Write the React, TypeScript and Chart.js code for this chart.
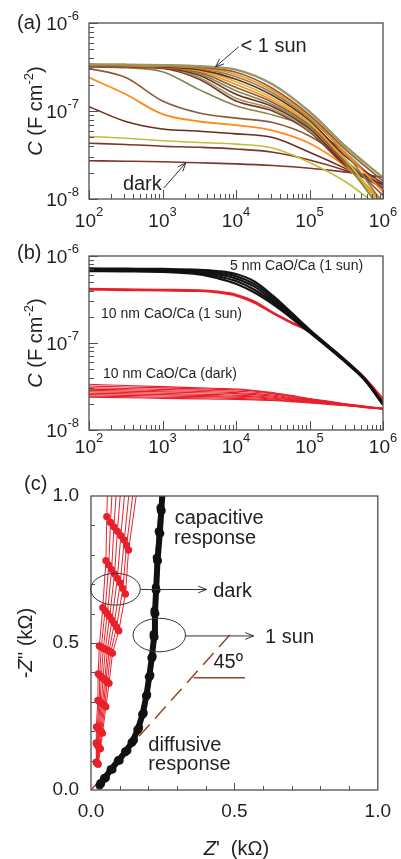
import React, { useEffect, useRef } from 'react';
import { Chart, registerables } from 'chart.js';

Chart.register(...registerables);

const FONT = '"Liberation Sans", Arial, Helvetica, sans-serif';
const INK = '#231f20';
const FRAME = '#505050';

// ---------------- (a) capacitance vs frequency, light-intensity series ----------------
const FREQ_A = [1e2, 3.16e2, 1e3, 3.16e3, 1e4, 3.16e4, 1e5, 3.16e5, 1e6];
// capacitance values in units of 1e-8 F cm^-2
const A_B1 = [34.0, 33.7, 33.2, 32.3, 29.5, 20.0, 9.8, 3.9, 1.75];
const A_B2 = [33.5, 33.2, 32.7, 31.5, 27.5, 18.0, 9.0, 3.6, 1.6];
const A_B3 = [33.0, 32.8, 32.2, 31.0, 26.0, 17.0, 8.6, 3.3, 1.2];
const A_B4 = [33.5, 33.0, 32.5, 30.5, 24.5, 16.0, 8.2, 3.2, 0.9];
const A_B5 = [32.5, 32.2, 31.6, 29.5, 23.0, 15.0, 7.8, 3.0, 1.5];
const A_B6 = [33.0, 32.5, 31.8, 29.0, 21.5, 14.0, 7.4, 2.8, 0.75];
const A_B7 = [32.8, 32.4, 31.5, 28.5, 20.0, 13.2, 7.2, 2.7, 0.85];
const A_B8 = [32.0, 31.7, 31.0, 27.5, 18.5, 12.5, 6.9, 2.6, 1.3];
const A_B9 = [33.2, 32.8, 31.8, 26.5, 17.0, 11.8, 6.6, 2.5, 0.7];
const A_B10 = [32.5, 32.0, 31.0, 25.5, 15.5, 11.2, 6.3, 2.45, 1.45];
const A_B11 = [33.0, 32.5, 31.5, 24.0, 14.0, 10.5, 6.0, 2.4, 0.8];
const A_B12 = [32.0, 31.5, 30.5, 23.0, 13.0, 10.0, 5.8, 2.35, 1.35];
const A_C7 = [31.6, 31.0, 28.0, 17.5, 11.5, 9.0, 6.5, 3.3, 1.3];
const A_C6 = [30.5, 24.0, 13.0, 9.5, 8.3, 7.4, 5.2, 2.7, 1.1];
const A_C5 = [24.0, 15.5, 9.2, 7.6, 6.9, 6.0, 4.3, 2.3, 0.95];
const A_C4 = [11.2, 7.6, 6.25, 5.9, 5.5, 5.0, 3.4, 2.2, 1.35];
const A_C3 = [5.13, 4.9, 4.6, 4.38, 4.2, 3.8, 2.6, 1.55, 0.75];
const A_C2 = [4.3, 4.17, 3.98, 3.87, 3.7, 3.4, 2.78, 2.1, 1.45];
const A_DARK = [2.72, 2.69, 2.65, 2.58, 2.51, 2.4, 2.24, 2.02, 1.76];

const KHAKI = '#9b9560';
const OLIVE = '#86844a';
const BROWN = '#8a5a3a';
const DBROWN = '#6a2c1e';
const RBROWN = '#7e3626';
const ORANGE = '#ff8a1a';
const YGREEN = '#c2bd3c';

const A_SERIES = [
  { v: A_B1, c: KHAKI, w: 2.4 },
  { v: A_B2, c: BROWN, w: 1.6 },
  { v: A_B3, c: ORANGE, w: 1.6 },
  { v: A_B4, c: OLIVE, w: 1.6 },
  { v: A_B5, c: DBROWN, w: 1.6 },
  { v: A_B6, c: YGREEN, w: 1.6 },
  { v: A_B7, c: ORANGE, w: 1.6 },
  { v: A_B8, c: BROWN, w: 1.6 },
  { v: A_B9, c: OLIVE, w: 1.6 },
  { v: A_B10, c: DBROWN, w: 1.6 },
  { v: A_B11, c: KHAKI, w: 1.6 },
  { v: A_B12, c: RBROWN, w: 1.6 },
  { v: A_C7, c: OLIVE, w: 1.6 },
  { v: A_C6, c: BROWN, w: 1.6 },
  { v: A_C5, c: ORANGE, w: 1.8 },
  { v: A_C4, c: DBROWN, w: 1.6 },
  { v: A_C3, c: YGREEN, w: 1.6 },
  { v: A_C2, c: RBROWN, w: 1.6 },
  { v: A_DARK, c: RBROWN, w: 1.6 },
];

const X_EXP = [2, 3, 4, 5, 6];
const Y_EXP = [-8, -7, -6];

// ---------------- (b) thickness comparison ----------------
const FREQ_B = [1e2, 3.16e2, 1e3, 3.16e3, 5.62e3, 1e4, 1.78e4, 3.16e4, 5.62e4, 1e5, 1.78e5, 3.16e5, 5.62e5, 1e6];
// units of 1e-8 F cm^-2
const B_5NM_SUN = [
  [72, 71.5, 71, 69.5, 67, 62, 51, 35, 22.5, 14.3, 9.4, 6.2, 3.9, 2.05],
  [70.5, 70, 69.5, 67.5, 64.5, 58.5, 47.5, 33, 21.5, 14.0, 9.2, 6.1, 3.85, 2.02],
  [69, 68.5, 68, 65.5, 61.5, 55, 44.5, 31, 21, 13.7, 9.1, 6.05, 3.8, 2.0],
  [68, 67.5, 66.5, 63.5, 58.5, 51.5, 41, 29.5, 20.2, 13.4, 9.0, 6.0, 3.78, 1.98],
  [67, 66.5, 65.5, 61.5, 55.5, 48, 38, 28, 19.5, 13.2, 8.9, 5.9, 3.75, 1.95],
];
const B_10NM_SUN = [
  [42, 41.5, 41, 40.5, 39, 36, 30, 22.5, 17.4, 13.7, 9.4, 6.2, 3.95, 2.2],
  [41, 40.5, 40, 39.5, 38, 35, 29, 22, 17.0, 13.5, 9.3, 6.2, 4.0, 2.28],
];
const B_10NM_DARK = [
  [3.35, 3.25, 3.15, 3.05, 3.0, 2.95, 2.85, 2.7, 2.5, 2.3, 2.15, 2.0, 1.88, 1.78],
  [3.2, 3.12, 3.05, 2.97, 2.93, 2.9, 2.8, 2.65, 2.45, 2.27, 2.12, 1.98, 1.87, 1.77],
  [3.05, 3.0, 2.93, 2.87, 2.83, 2.8, 2.72, 2.6, 2.4, 2.25, 2.1, 1.97, 1.86, 1.77],
  [2.95, 2.9, 2.83, 2.77, 2.73, 2.7, 2.62, 2.52, 2.35, 2.22, 2.08, 1.96, 1.85, 1.76],
  [2.85, 2.8, 2.74, 2.68, 2.65, 2.62, 2.55, 2.45, 2.3, 2.2, 2.07, 1.95, 1.85, 1.76],
  [2.75, 2.7, 2.64, 2.58, 2.55, 2.52, 2.46, 2.38, 2.26, 2.17, 2.05, 1.94, 1.84, 1.75],
  [2.65, 2.6, 2.55, 2.5, 2.47, 2.45, 2.4, 2.32, 2.22, 2.14, 2.03, 1.93, 1.84, 1.75],
  [2.55, 2.5, 2.46, 2.42, 2.4, 2.38, 2.33, 2.27, 2.19, 2.11, 2.01, 1.92, 1.83, 1.74],
  [2.45, 2.42, 2.38, 2.35, 2.33, 2.31, 2.27, 2.22, 2.15, 2.08, 1.99, 1.91, 1.82, 1.74],
  [2.38, 2.35, 2.31, 2.28, 2.26, 2.25, 2.22, 2.18, 2.12, 2.05, 1.97, 1.9, 1.81, 1.73],
];

// ---------------- (c) Nyquist plot, kΩ ----------------
const DARK_RE = [
  [0.018, 0.018, 0.019, 0.024, 0.025, 0.029, 0.041, 0.052, 0.055, 0.060],
  [0.019, 0.020, 0.022, 0.028, 0.030, 0.036, 0.049, 0.062, 0.068, 0.078],
  [0.020, 0.022, 0.025, 0.032, 0.036, 0.043, 0.057, 0.072, 0.080, 0.094],
  [0.021, 0.024, 0.028, 0.036, 0.042, 0.050, 0.065, 0.082, 0.092, 0.110],
  [0.022, 0.026, 0.031, 0.040, 0.048, 0.057, 0.073, 0.092, 0.104, 0.126],
  [0.023, 0.028, 0.034, 0.044, 0.052, 0.063, 0.081, 0.102, 0.116, 0.142],
  [0.024, 0.030, 0.037, 0.048, 0.057, 0.069, 0.089, 0.111, 0.124, 0.158],
  [0.025, 0.033, 0.040, 0.052, 0.063, 0.075, 0.097, 0.120, 0.131, 0.172],
];
const DARK_IM = [
  [0.095, 0.160, 0.215, 0.305, 0.395, 0.490, 0.620, 0.780, 0.930, 1.10],
  [0.094, 0.157, 0.212, 0.302, 0.390, 0.486, 0.610, 0.765, 0.910, 1.10],
  [0.093, 0.154, 0.209, 0.299, 0.385, 0.482, 0.600, 0.750, 0.895, 1.10],
  [0.092, 0.151, 0.206, 0.296, 0.380, 0.479, 0.590, 0.735, 0.880, 1.10],
  [0.091, 0.148, 0.203, 0.293, 0.376, 0.476, 0.578, 0.720, 0.865, 1.10],
  [0.090, 0.145, 0.200, 0.290, 0.372, 0.472, 0.566, 0.705, 0.850, 1.10],
  [0.089, 0.142, 0.197, 0.287, 0.368, 0.469, 0.554, 0.685, 0.832, 1.10],
  [0.088, 0.140, 0.193, 0.283, 0.363, 0.465, 0.542, 0.667, 0.816, 1.10],
];
const SUN_RE = [0.034, 0.047, 0.07, 0.095, 0.12, 0.143, 0.163, 0.18, 0.193, 0.203, 0.212, 0.22, 0.223, 0.227, 0.232, 0.24, 0.245, 0.25];
const SUN_IM = [0.022, 0.04, 0.07, 0.1, 0.13, 0.162, 0.205, 0.258, 0.32, 0.385, 0.45, 0.521, 0.6, 0.68, 0.78, 0.873, 0.95, 1.02];
const SUN2_RE = [0.030, 0.052, 0.075, 0.1, 0.127, 0.15, 0.168, 0.184, 0.196, 0.207, 0.215, 0.218, 0.221, 0.226, 0.229, 0.236, 0.242, 0.247];
const SUN2_IM = [0.015, 0.042, 0.07, 0.1, 0.134, 0.17, 0.212, 0.262, 0.325, 0.39, 0.455, 0.53, 0.61, 0.69, 0.79, 0.88, 0.96, 1.03];
const SLOPE_RE = [0, 0.5];
const SLOPE_IM = [0, 0.545];
const ANGLE_RE = [0.358, 0.537];
const ANGLE_IM = [0.382, 0.382];
const C_TICKS = [0, 0.5, 1.0];

const RED = '#e8202a';
const LINE_BROWN = '#8e4a2c';

// ---------------- drawing helpers ----------------
const fnt = (size: number, style = '') => `${style} ${size}px ${FONT}`.trim();

type Run = { t: string; font: string; dy?: number };

function drawRuns(ctx: CanvasRenderingContext2D, runs: Run[], x: number, y: number, align: 'left' | 'center' | 'right') {
  let total = 0;
  const widths = runs.map((r) => {
    ctx.font = r.font;
    const w = ctx.measureText(r.t).width;
    total += w;
    return w;
  });
  let cx = align === 'center' ? x - total / 2 : align === 'right' ? x - total : x;
  ctx.textAlign = 'left';
  ctx.textBaseline = 'alphabetic';
  runs.forEach((r, i) => {
    ctx.font = r.font;
    ctx.fillText(r.t, cx, y + (r.dy || 0));
    cx += widths[i];
  });
}

function drawArrow(ctx: CanvasRenderingContext2D, x1: number, y1: number, x2: number, y2: number) {
  const ang = Math.atan2(y2 - y1, x2 - x1);
  const h = 9;
  const spread = 0.38;
  ctx.beginPath();
  ctx.moveTo(x1, y1);
  ctx.lineTo(x2, y2);
  ctx.moveTo(x2 - h * Math.cos(ang - spread), y2 - h * Math.sin(ang - spread));
  ctx.lineTo(x2, y2);
  ctx.lineTo(x2 - h * Math.cos(ang + spread), y2 - h * Math.sin(ang + spread));
  ctx.stroke();
}

type Note =
  | { kind: 'text'; x: number; y: number; text: string; size: number }
  | { kind: 'arrow'; x1: number; y1: number; x2: number; y2: number };

function logPanelPlugin(cfg: { label: string; labelY: number; xBase: number; notes: Note[] }) {
  return {
    id: 'logPanel' + cfg.label.replace(/[()]/g, ''),
    afterDatasetsDraw(chart: any) {
      const { ctx, chartArea: a } = chart;
      const xs = chart.scales.x;
      const ys = chart.scales.y;
      ctx.save();
      ctx.strokeStyle = FRAME;
      ctx.lineWidth = 1.3;
      ctx.strokeRect(a.left, a.top, a.right - a.left, a.bottom - a.top);
      ctx.lineWidth = 1;
      ctx.beginPath();
      const ex0 = Math.round(Math.log10(xs.min));
      const ex1 = Math.round(Math.log10(xs.max));
      for (let e = ex0; e <= ex1; e++) {
        for (let k = 1; k <= 9; k++) {
          const v = k * Math.pow(10, e);
          if (v > xs.max * 1.0001) break;
          const px = Math.round(xs.getPixelForValue(v)) + 0.5;
          const len = k === 1 ? 9 : 5;
          ctx.moveTo(px, a.bottom);
          ctx.lineTo(px, a.bottom - len);
        }
      }
      const ey0 = Math.round(Math.log10(ys.min));
      const ey1 = Math.round(Math.log10(ys.max));
      for (let e = ey0; e <= ey1; e++) {
        for (let k = 1; k <= 9; k++) {
          const v = k * Math.pow(10, e);
          if (v > ys.max * 1.0001) break;
          const py = Math.round(ys.getPixelForValue(v)) + 0.5;
          const len = k === 1 ? 9 : 5;
          ctx.moveTo(a.left, py);
          ctx.lineTo(a.left + len, py);
        }
      }
      ctx.stroke();

      ctx.fillStyle = INK;
      X_EXP.forEach((e) => {
        const px = xs.getPixelForValue(Math.pow(10, e));
        drawRuns(ctx, [{ t: '10', font: fnt(19) }, { t: String(e), font: fnt(13), dy: -11 }], px, a.bottom + cfg.xBase, 'center');
      });
      Y_EXP.forEach((e) => {
        const py = ys.getPixelForValue(Math.pow(10, e));
        drawRuns(ctx, [{ t: '10', font: fnt(19) }, { t: String(e), font: fnt(13), dy: -10 }], a.left - 10, py + 7, 'right');
      });

      // y-axis title
      ctx.save();
      ctx.translate(42, (a.top + a.bottom) / 2);
      ctx.rotate(-Math.PI / 2);
      drawRuns(
        ctx,
        [
          { t: 'C', font: fnt(20, 'italic') },
          { t: ' (F cm', font: fnt(20) },
          { t: '-2', font: fnt(13), dy: -9 },
          { t: ')', font: fnt(20) },
        ],
        0,
        0,
        'center'
      );
      ctx.restore();

      // panel label
      ctx.font = fnt(20);
      ctx.textAlign = 'left';
      ctx.textBaseline = 'alphabetic';
      ctx.fillText(cfg.label, 17, cfg.labelY);

      // annotations
      ctx.strokeStyle = '#333';
      ctx.lineWidth = 1;
      cfg.notes.forEach((n) => {
        if (n.kind === 'text') {
          ctx.font = fnt(n.size);
          ctx.textAlign = 'left';
          ctx.textBaseline = 'alphabetic';
          ctx.fillText(n.text, xs.getPixelForValue(n.x), ys.getPixelForValue(n.y));
        } else {
          drawArrow(ctx, xs.getPixelForValue(n.x1), ys.getPixelForValue(n.y1), xs.getPixelForValue(n.x2), ys.getPixelForValue(n.y2));
        }
      });
      ctx.restore();
    },
  };
}

const NOTES_A: Note[] = [
  { kind: 'text', x: 1.15e4, y: 4.68e-7, text: '< 1 sun', size: 20 },
  { kind: 'arrow', x1: 1.09e4, y1: 5.38e-7, x2: 5.27e3, y2: 3.18e-7 },
  { kind: 'text', x: 289, y: 1.265e-8, text: 'dark', size: 20 },
  { kind: 'arrow', x1: 1.04e3, y1: 1.33e-8, x2: 2.07e3, y2: 2.57e-8 },
];
const NOTES_B: Note[] = [
  { kind: 'text', x: 8.3e3, y: 6.85e-7, text: '5 nm CaO/Ca (1 sun)', size: 14 },
  { kind: 'text', x: 146, y: 1.94e-7, text: '10 nm CaO/Ca (1 sun)', size: 14 },
  { kind: 'text', x: 155, y: 3.96e-8, text: '10 nm CaO/Ca (dark)', size: 14 },
];

const C_TOP = 460; // page offset of the (c) canvas

const nyquistPlugin = {
  id: 'nyquist',
  afterDatasetsDraw(chart: any) {
    const { ctx, chartArea: a } = chart;
    const xs = chart.scales.x;
    const ys = chart.scales.y;
    const X = (v: number) => xs.getPixelForValue(v);
    const Y = (v: number) => ys.getPixelForValue(v);
    ctx.save();
    ctx.strokeStyle = FRAME;
    ctx.lineWidth = 1.3;
    ctx.strokeRect(a.left, a.top, a.right - a.left, a.bottom - a.top);
    ctx.lineWidth = 1;
    ctx.beginPath();
    for (let i = 1; i < 10; i++) {
      const v = i / 10;
      const len = i === 5 ? 7 : 4;
      const px = Math.round(X(v)) + 0.5;
      ctx.moveTo(px, a.bottom);
      ctx.lineTo(px, a.bottom - len);
      const py = Math.round(Y(v)) + 0.5;
      ctx.moveTo(a.left, py);
      ctx.lineTo(a.left + len, py);
    }
    ctx.stroke();

    ctx.fillStyle = INK;
    // axis titles
    drawRuns(
      ctx,
      [
        { t: 'Z', font: fnt(20, 'italic') },
        { t: "'", font: fnt(20) },
        { t: '  (kΩ)', font: fnt(20) },
      ],
      (a.left + a.right) / 2 + 2,
      855 - C_TOP,
      'center'
    );
    ctx.save();
    ctx.translate(32, (a.top + a.bottom) / 2);
    ctx.rotate(-Math.PI / 2);
    drawRuns(
      ctx,
      [
        { t: '-', font: fnt(20) },
        { t: 'Z', font: fnt(20, 'italic') },
        { t: "'' (kΩ)", font: fnt(20) },
      ],
      0,
      0,
      'center'
    );
    ctx.restore();

    ctx.font = fnt(20);
    ctx.textAlign = 'left';
    ctx.textBaseline = 'alphabetic';
    ctx.fillText('(c)', 24, 490 - C_TOP);

    // ellipses + arrows
    ctx.strokeStyle = '#333';
    ctx.lineWidth = 1;
    const ell = (cx: number, cy: number, rx: number, ry: number) => {
      ctx.beginPath();
      ctx.ellipse(X(cx), Y(cy), X(cx + rx) - X(cx), Y(cy) - Y(cy + ry), 0, 0, Math.PI * 2);
      ctx.stroke();
    };
    ell(0.0854, 0.683, 0.0865, 0.054);
    ell(0.238, 0.527, 0.0915, 0.057);
    drawArrow(ctx, X(0.172), Y(0.682), X(0.403), Y(0.682));
    drawArrow(ctx, X(0.33), Y(0.524), X(0.567), Y(0.524));

    const txt = (s: string, x: number, y: number) => {
      ctx.font = fnt(20);
      ctx.fillText(s, X(x), Y(y));
    };
    txt('capacitive', 0.292, 0.905);
    txt('response', 0.289, 0.837);
    txt('dark', 0.426, 0.657);
    txt('1 sun', 0.607, 0.5);
    txt('45º', 0.427, 0.415);
    txt('diffusive', 0.2, 0.133);
    txt('response', 0.2, 0.068);
    ctx.restore();
  },
};

function toPoints(xs: number[], ys: number[], scale = 1) {
  return xs.map((x, i) => ({ x, y: ys[i] * scale }));
}

const hiddenAxis = {
  ticks: { display: false },
  grid: { display: false, drawTicks: false },
  border: { display: false },
};

function configA(): any {
  return {
    type: 'line',
    data: {
      datasets: A_SERIES.map((s) => ({
        data: toPoints(FREQ_A, s.v, 1e-8),
        borderColor: s.c,
        borderWidth: s.w,
        pointRadius: 0,
        cubicInterpolationMode: 'monotone',
        fill: false,
      })),
    },
    options: {
      responsive: false,
      animation: false,
      events: [],
      layout: { padding: { left: 0, top: 23, right: 18, bottom: 0 } },
      plugins: { legend: { display: false }, tooltip: { enabled: false } },
      scales: {
        x: { type: 'logarithmic', min: 1e2, max: 1e6, ...hiddenAxis, afterFit: (s: any) => { s.height = 41; } },
        y: { type: 'logarithmic', min: 1e-8, max: 1e-6, ...hiddenAxis, afterFit: (s: any) => { s.width = 89; } },
      },
    },
    plugins: [logPanelPlugin({ label: '(a)', labelY: 29, xBase: 28, notes: NOTES_A })],
  };
}

function configB(): any {
  const ds: any[] = [];
  B_5NM_SUN.forEach((v) =>
    ds.push({ data: toPoints(FREQ_B, v, 1e-8), borderColor: '#111111', borderWidth: 2.2, pointRadius: 0, cubicInterpolationMode: 'monotone' })
  );
  B_10NM_SUN.forEach((v) =>
    ds.push({ data: toPoints(FREQ_B, v, 1e-8), borderColor: RED, borderWidth: 2, pointRadius: 0, cubicInterpolationMode: 'monotone' })
  );
  B_10NM_DARK.forEach((v) =>
    ds.push({ data: toPoints(FREQ_B, v, 1e-8), borderColor: RED, borderWidth: 1.1, pointRadius: 0, cubicInterpolationMode: 'monotone' })
  );
  return {
    type: 'line',
    data: { datasets: ds },
    options: {
      responsive: false,
      animation: false,
      events: [],
      layout: { padding: { left: 0, top: 16, right: 18, bottom: 0 } },
      plugins: { legend: { display: false }, tooltip: { enabled: false } },
      scales: {
        x: { type: 'logarithmic', min: 1e2, max: 1e6, ...hiddenAxis, afterFit: (s: any) => { s.height = 30; } },
        y: { type: 'logarithmic', min: 1e-8, max: 1e-6, ...hiddenAxis, afterFit: (s: any) => { s.width = 89; } },
      },
    },
    plugins: [logPanelPlugin({ label: '(b)', labelY: 19, xBase: 23, notes: NOTES_B })],
  };
}

function configC(): any {
  const ds: any[] = [];
  ds.push({
    data: toPoints(SUN_RE, SUN_IM),
    borderColor: '#111111',
    backgroundColor: '#111111',
    borderWidth: 6,
    pointRadius: 4.5,
    pointBorderWidth: 0,
    showLine: true,
  });
  ds.push({
    data: toPoints(SUN2_RE, SUN2_IM),
    borderColor: '#1a1a1a',
    backgroundColor: '#1a1a1a',
    borderWidth: 3.5,
    pointRadius: 4,
    pointBorderWidth: 0,
    showLine: true,
  });
  DARK_RE.forEach((re, i) =>
    ds.push({
      data: toPoints(re, DARK_IM[i]),
      borderColor: RED,
      backgroundColor: RED,
      borderWidth: 1,
      pointRadius: 3.6,
      pointBorderWidth: 0,
      showLine: true,
    })
  );
  ds.push({
    data: toPoints(SLOPE_RE, SLOPE_IM),
    borderColor: LINE_BROWN,
    borderWidth: 1.5,
    borderDash: [16, 8],
    pointRadius: 0,
    showLine: true,
  });
  ds.push({
    data: toPoints(ANGLE_RE, ANGLE_IM),
    borderColor: LINE_BROWN,
    borderWidth: 1.5,
    pointRadius: 0,
    showLine: true,
  });
  return {
    type: 'scatter',
    data: { datasets: ds },
    options: {
      responsive: false,
      animation: false,
      events: [],
      layout: { padding: { left: 0, top: 36, right: 15, bottom: 0 } },
      plugins: { legend: { display: false }, tooltip: { enabled: false } },
      scales: {
        x: {
          type: 'linear',
          min: 0,
          max: 1,
          afterBuildTicks: (s: any) => { s.ticks = C_TICKS.map((v) => ({ value: v })); },
          ticks: { color: INK, font: { family: FONT, size: 19 }, padding: 10, maxRotation: 0, callback: (v: any) => Number(v).toFixed(1) },
          grid: { display: false, drawTicks: false },
          border: { display: false },
          afterFit: (s: any) => { s.height = 69; },
        },
        y: {
          type: 'linear',
          min: 0,
          max: 1,
          afterBuildTicks: (s: any) => { s.ticks = C_TICKS.map((v) => ({ value: v })); },
          ticks: { color: INK, font: { family: FONT, size: 19 }, padding: 12, callback: (v: any) => Number(v).toFixed(1) },
          grid: { display: false, drawTicks: false },
          border: { display: false },
          afterFit: (s: any) => { s.width = 91; },
        },
      },
    },
    plugins: [nyquistPlugin],
  };
}

export default function App() {
  const refA = useRef<HTMLCanvasElement>(null);
  const refB = useRef<HTMLCanvasElement>(null);
  const refC = useRef<HTMLCanvasElement>(null);

  useEffect(() => {
    const charts = [
      new Chart(refA.current as HTMLCanvasElement, configA()),
      new Chart(refB.current as HTMLCanvasElement, configB()),
      new Chart(refC.current as HTMLCanvasElement, configC()),
    ];
    return () => charts.forEach((c) => c.destroy());
  }, []);

  return (
    <div style={{ position: 'absolute', left: 0, top: 0, width: 401, height: 859, background: '#ffffff', overflow: 'hidden' }}>
      <canvas ref={refA} width={401} height={240} style={{ position: 'absolute', left: 0, top: 0 }} />
      <canvas ref={refB} width={401} height={220} style={{ position: 'absolute', left: 0, top: 240 }} />
      <canvas ref={refC} width={401} height={399} style={{ position: 'absolute', left: 0, top: C_TOP }} />
    </div>
  );
}
